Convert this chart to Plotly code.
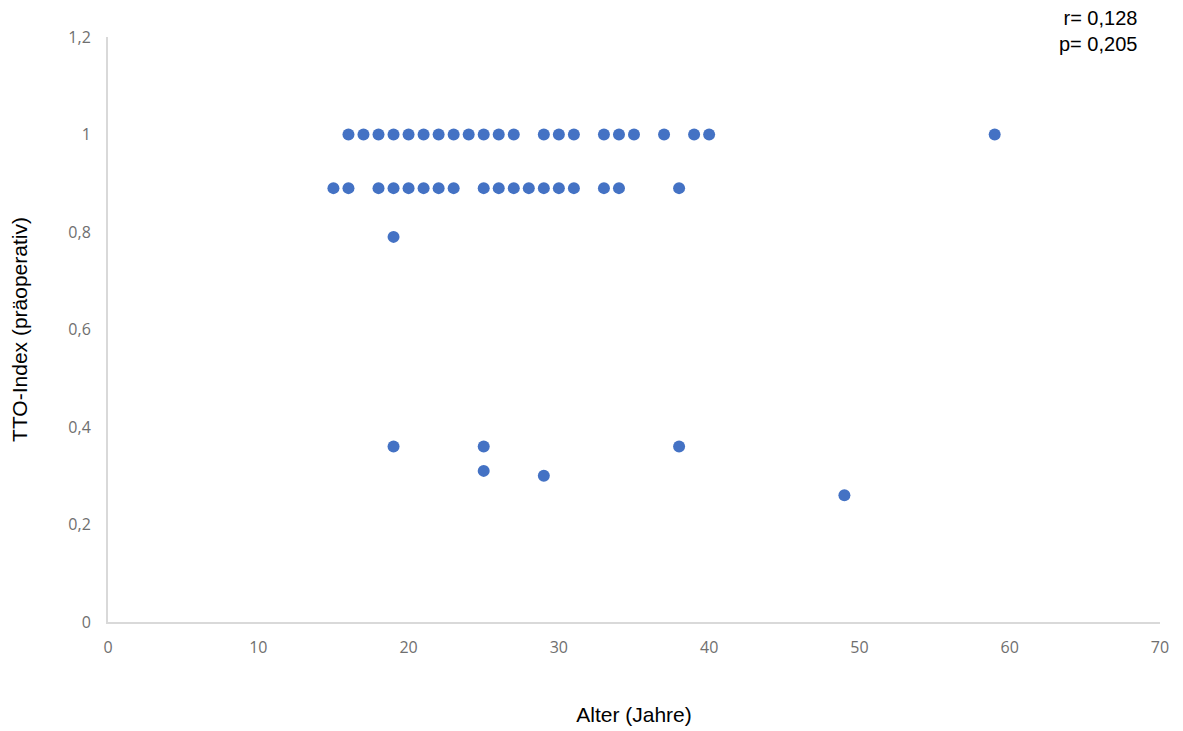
import plotly.graph_objects as go

# y = 1.0 group
age_a = [16, 17, 18, 19, 20, 21, 22, 23, 24, 25, 26, 27, 29, 30, 31, 33, 34, 35, 37, 39, 40, 59]
tto_a = [1.0] * len(age_a)
# y = 0.89 group
age_b = [15, 16, 18, 19, 20, 21, 22, 23, 25, 26, 27, 28, 29, 30, 31, 33, 34, 38]
tto_b = [0.89] * len(age_b)
# other points
age_c = [19, 19, 25, 38, 25, 29, 49]
tto_c = [0.79, 0.36, 0.36, 0.36, 0.31, 0.30, 0.26]

ages = age_a + age_b + age_c
tto = tto_a + tto_b + tto_c

x_ticks = [0, 10, 20, 30, 40, 50, 60, 70]
y_ticks = [0, 0.2, 0.4, 0.6, 0.8, 1.0, 1.2]
y_tick_text = ["0", "0,2", "0,4", "0,6", "0,8", "1", "1,2"]

fig = go.Figure(go.Scatter(
    x=ages, y=tto, mode="markers",
    marker=dict(size=12, color="#4472C4", line=dict(width=0)),
    showlegend=False,
))

tick_font = dict(family="Open Sans, Liberation Sans, sans-serif", size=16, color="#6f6f6f")
title_font = dict(family="Liberation Sans, Arial, sans-serif", size=21, color="#000000")

fig.update_layout(
    width=1183, height=731,
    margin=dict(l=100, r=31, t=29, b=117),
    paper_bgcolor="white", plot_bgcolor="white",
    xaxis=dict(range=[0, 70], tickvals=x_ticks, showgrid=False, zeroline=False,
               showline=True, linecolor="#d9d9d9", linewidth=2, ticks="",
               tickfont=tick_font, ticklabelstandoff=10, automargin=False,
               title=dict(text="Alter (Jahre)", font=title_font, standoff=50)),
    yaxis=dict(range=[0, 1.2], tickvals=y_ticks, ticktext=y_tick_text, showgrid=False,
               zeroline=False, showline=True, linecolor="#d9d9d9", linewidth=2, ticks="",
               tickfont=tick_font, ticklabelstandoff=12, automargin=False,
               title=dict(text="TTO-Index (präoperativ)", font=title_font, standoff=35)),
    annotations=[dict(text="r= 0,128<br>p= 0,205", xref="paper", yref="paper",
                      x=(1131 - 100) / 1052, y=1.011, xanchor="right", yanchor="middle",
                      align="right", showarrow=False,
                      font=dict(family="Liberation Sans, Arial, sans-serif", size=20, color="#000000"))],
)

fig.write_html("out.html")
